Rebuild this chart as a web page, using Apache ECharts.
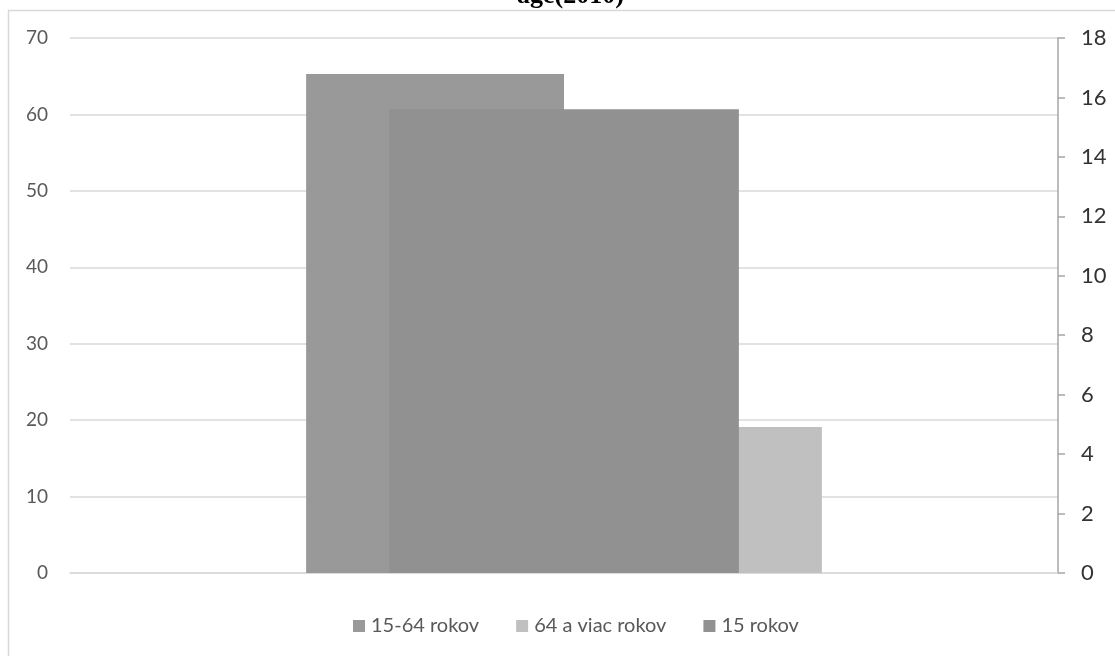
<!DOCTYPE html>
<html>
<head>
<meta charset="utf-8">
<script src="https://cdn.jsdelivr.net/npm/echarts@6/dist/echarts.min.js"></script>
<style>
html,body{margin:0;padding:0;background:#fff;}
#chart{width:1115px;height:656px;}
</style>
</head>
<body>
<div id="chart"></div>
<script>
const categories = ['2010'];
const seriesNames = ['15-64 rokov', '64 a viac rokov', '15 rokov'];
const values1564 = [65.3];
const values64plus = [19.1];
const values15 = [15.6];
const leftTicks = {min: 0, max: 70, interval: 10};
const rightTicks = {min: 0, max: 18, interval: 2};

const font = 'Lato';
const chart = echarts.init(document.getElementById('chart'), null, {renderer: 'canvas'});
chart.setOption({
  animation: false,
  backgroundColor: '#ffffff',
  title: {
    text: 'age(2010)',
    left: 512,
    top: -22,
    textStyle: {fontFamily: 'Liberation Serif', fontWeight: 'bold', fontSize: 26, color: '#000'}
  },
  graphic: [{
    type: 'rect', z: -10, silent: true,
    shape: {x: 8.5, y: 10.5, width: 1130, height: 700},
    style: {fill: 'none', stroke: '#d9d9d9', lineWidth: 1.5}
  }],
  legend: {
    left: 348, bottom: 15,
    itemWidth: 12, itemHeight: 12, itemGap: 37,
    icon: 'rect',
    textStyle: {fontFamily: font, fontSize: 20, color: '#595959', padding: [0, 0, 0, 1]},
    data: seriesNames
  },
  grid: {left: 70, right: 57, top: 38, bottom: 83},
  xAxis: [{
    type: 'category', data: categories,
    axisLine: {lineStyle: {color: '#d9d9d9', width: 1.5}},
    axisTick: {show: false}, axisLabel: {show: false}
  }, {
    type: 'category', data: categories, show: false
  }],
  yAxis: [{
    type: 'value', min: leftTicks.min, max: leftTicks.max, interval: leftTicks.interval,
    axisLine: {show: false}, axisTick: {show: false},
    axisLabel: {fontFamily: font, fontSize: 19, color: '#595959', margin: 22},
    splitLine: {lineStyle: {color: '#d9d9d9', width: 1.5}}
  }, {
    type: 'value', min: rightTicks.min, max: rightTicks.max, interval: rightTicks.interval,
    position: 'right',
    axisLine: {show: true, lineStyle: {color: '#a6a6a6', width: 1.5}},
    axisTick: {show: true, inside: false, length: 7, lineStyle: {color: '#a6a6a6', width: 1.5}},
    axisLabel: {fontFamily: font, fontSize: 22, color: '#333333', margin: 23},
    splitLine: {show: false}
  }],
  series: [{
    name: seriesNames[0], type: 'bar', xAxisIndex: 0, yAxisIndex: 0,
    data: values1564, barGap: '0%', barCategoryGap: '47.8%',
    itemStyle: {color: '#999999'}
  }, {
    name: seriesNames[1], type: 'bar', xAxisIndex: 0, yAxisIndex: 0,
    data: values64plus, barGap: '0%', barCategoryGap: '47.8%',
    itemStyle: {color: '#c0c0c0'}
  }, {
    name: seriesNames[2], type: 'bar', xAxisIndex: 1, yAxisIndex: 1,
    data: values15, barCategoryGap: '64.6%',
    itemStyle: {color: '#919191'}
  }]
});
</script>
</body>
</html>
